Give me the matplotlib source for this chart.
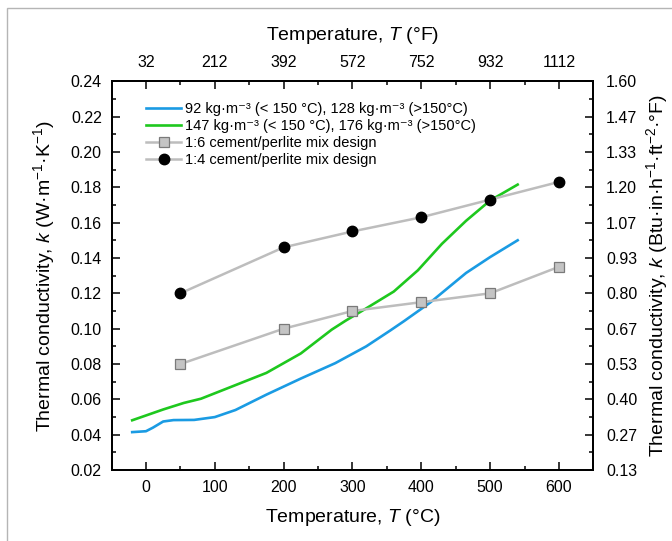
import matplotlib
matplotlib.use("Agg")
import matplotlib.pyplot as plt
from matplotlib.patches import Rectangle

plt.rcParams["font.family"] = ["Liberation Sans", "DejaVu Sans"]
plt.rcParams["mathtext.fontset"] = "custom"
plt.rcParams["mathtext.rm"] = "Liberation Sans"
plt.rcParams["mathtext.it"] = "Liberation Sans:italic"

# ---------------------------------------
# Data
# ---------------------------------------

# measured curves (temperature in C, k in W/m.K)
t_92 = [-20, 0, 10, 25, 40, 70, 100, 130, 175, 225, 275, 320, 355, 375, 413, 465, 500, 540]
k_92 = [0.0415, 0.0420, 0.0440, 0.0475, 0.0483, 0.0484, 0.0500, 0.0540, 0.0627,
        0.0718, 0.0805, 0.0900, 0.0990, 0.1043, 0.1148, 0.1315, 0.1405, 0.1500]

t_147 = [-20, 25, 55, 80, 125, 175, 200, 225, 250, 270, 290, 320, 360, 395, 430, 465, 500, 540]
k_147 = [0.0482, 0.0543, 0.0580, 0.0604, 0.0673, 0.0750, 0.0805, 0.0860, 0.0935,
         0.0995, 0.1045, 0.1115, 0.1210, 0.1330, 0.1480, 0.1610, 0.1725, 0.1815]

# mix design points
t_mix = [50, 200, 300, 400, 500, 600]
k_mix16 = [0.080, 0.100, 0.110, 0.115, 0.120, 0.135]
k_mix14 = [0.120, 0.146, 0.155, 0.163, 0.173, 0.183]

# axis ticks
c_ticks = [0, 100, 200, 300, 400, 500, 600]
f_labels = ["32", "212", "392", "572", "752", "932", "1112"]
k_ticks = [0.02, 0.04, 0.06, 0.08, 0.10, 0.12, 0.14, 0.16, 0.18, 0.20, 0.22, 0.24]
btu_labels = ["0.13", "0.27", "0.40", "0.53", "0.67", "0.80", "0.93",
              "1.07", "1.20", "1.33", "1.47", "1.60"]

labels = [
    "92 kg·m⁻³ (< 150 °C), 128 kg·m⁻³ (>150°C)",
    "147 kg·m⁻³ (< 150 °C), 176 kg·m⁻³ (>150°C)",
    "1:6 cement/perlite mix design",
    "1:4 cement/perlite mix design",
]

# ---------------------------------------
# Plot
# ---------------------------------------

fig = plt.figure(figsize=(6.72, 5.41), dpi=100)
ax = fig.add_axes([0.166, 0.131, 0.717, 0.719])

ax.plot(t_92, k_92, color="#1a9be3", lw=1.9, label=labels[0])
ax.plot(t_147, k_147, color="#1ec81e", lw=1.9, label=labels[1])
ax.plot(t_mix, k_mix16, color="#bdbdbd", lw=1.8, marker="s", ms=6.5,
        mfc="#c4c4c4", mec="#7a7a7a", mew=0.9, label=labels[2])
ax.plot(t_mix, k_mix14, color="#bdbdbd", lw=1.8, marker="o", ms=7.5,
        mfc="black", mec="black", label=labels[3])

ax.set_xlim(-50, 650)
ax.set_ylim(0.02, 0.24)
ax.set_xticks(c_ticks)
ax.set_xticks(range(-50, 651, 50), minor=True)
ax.set_yticks(k_ticks)
ax.set_yticks([0.03 + 0.02 * i for i in range(11)], minor=True)
ax.set_yticklabels([f"{v:.2f}" for v in k_ticks])

ax.set_xlabel("Temperature, $T$ (°C)", fontsize=14, labelpad=9)
ax.set_ylabel("Thermal conductivity, $k$ (W·m$^{-1}$·K$^{-1}$)", fontsize=14, labelpad=10)

# top axis in Fahrenheit
axt = ax.twiny()
axt.set_xlim(ax.get_xlim())
axt.set_xticks(c_ticks)
axt.set_xticklabels(f_labels)
axt.set_xticks(range(-50, 651, 50), minor=True)
axt.set_xlabel("Temperature, $T$ (°F)", fontsize=14, labelpad=11)

# right axis in imperial units
axr = ax.twinx()
axr.set_ylim(ax.get_ylim())
axr.set_yticks(k_ticks)
axr.set_yticklabels(btu_labels)
axr.set_yticks([0.03 + 0.02 * i for i in range(11)], minor=True)
axr.set_ylabel("Thermal conductivity, $k$ (Btu·in·h$^{-1}$·ft$^{-2}$·°F)", fontsize=14, labelpad=5)

for a in (ax, axt, axr):
    a.tick_params(which="both", direction="in", labelsize=11.5, width=1.1)
    a.tick_params(which="major", length=6)
    a.tick_params(which="minor", length=3)
    for s in a.spines.values():
        s.set_linewidth(1.2)
ax.tick_params(top=False, right=False)
ax.tick_params(axis="y", which="major", pad=7)
ax.tick_params(axis="x", which="major", pad=7)
axt.tick_params(axis="x", which="major", pad=8)
axr.tick_params(axis="y", which="major", pad=9)

leg = ax.legend(loc="upper left", bbox_to_anchor=(0.045, 0.98), frameon=False,
                fontsize=10.5, handlelength=2.4, handletextpad=0.25, labelspacing=0.2)

# light frame around the figure panel
fig.add_artist(Rectangle((7 / 672, -0.2), 1.3, 1.2 - 8 / 541,
                         transform=fig.transFigure, fill=False,
                         edgecolor="#b5b5b5", lw=1.0))

plt.savefig("out.png", dpi=100)
plt.close()
